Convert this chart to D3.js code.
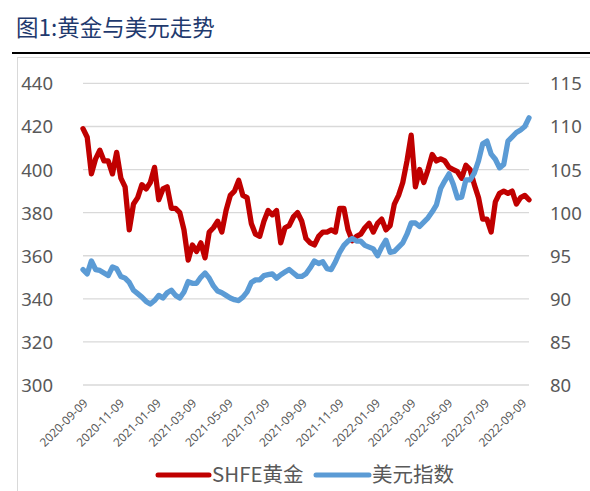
<!DOCTYPE html>
<html>
<head>
<meta charset="utf-8">
<script src="https://cdn.jsdelivr.net/npm/d3@7/dist/d3.min.js"></script>
<style>
html,body{margin:0;padding:0;background:#fff;}
svg{display:block;}
</style>
</head>
<body>
<svg id="chart" width="590" height="491"></svg>
<script>
const dates = ["2020-09-09","2020-09-16","2020-09-23","2020-09-30","2020-10-07","2020-10-14","2020-10-21","2020-10-28","2020-11-04","2020-11-11","2020-11-18","2020-11-25","2020-12-02","2020-12-09","2020-12-16","2020-12-23","2020-12-30",
"2021-01-06","2021-01-13","2021-01-20","2021-01-27","2021-02-03","2021-02-10","2021-02-17","2021-02-24","2021-03-03","2021-03-10","2021-03-17","2021-03-24","2021-03-31","2021-04-07","2021-04-14","2021-04-21","2021-04-28","2021-05-05","2021-05-12","2021-05-19","2021-05-26","2021-06-02","2021-06-09","2021-06-16","2021-06-23","2021-06-30","2021-07-07","2021-07-14","2021-07-21","2021-07-28","2021-08-04","2021-08-11","2021-08-18","2021-08-25","2021-09-01","2021-09-08","2021-09-15","2021-09-22","2021-09-29","2021-10-06","2021-10-13","2021-10-20","2021-10-27","2021-11-03","2021-11-10","2021-11-17","2021-11-24","2021-12-01","2021-12-08","2021-12-15","2021-12-22","2021-12-29",
"2022-01-05","2022-01-12","2022-01-19","2022-01-26","2022-02-02","2022-02-09","2022-02-16","2022-02-23","2022-03-02","2022-03-09","2022-03-16","2022-03-23","2022-03-30","2022-04-06","2022-04-13","2022-04-20","2022-04-27","2022-05-04","2022-05-11","2022-05-18","2022-05-25","2022-06-01","2022-06-08","2022-06-15","2022-06-22","2022-06-29","2022-07-06","2022-07-13","2022-07-20","2022-07-27","2022-08-03","2022-08-10","2022-08-17","2022-08-24","2022-08-31","2022-09-07","2022-09-14","2022-09-21"];

const goldSHFE = [419,415,398,405,409,404,404,398,408,396,392,372,384,387,393,391,394,
401,386,391,392,382,382,380,372,358,365,362,366,359,371,373,376,371,381,388,390,395,388,387,375,370,369,376,381,379,381,366,373,374,378,380,376,368,366,365,369,371,371,372,371,382,382,372,367,369,370,373,375,
371,375,377,372,374,384,388,394,404,416,392,400,394,400,407,404,405,404,401,400,399,396,402,400,393,387,377,377,371,385,389,390,389,390,384,387,388,386];

const usdIndex = [93.4,92.9,94.4,93.4,93.3,93.0,92.7,93.7,93.5,92.6,92.4,91.9,91.0,90.6,90.2,89.7,89.4,
89.8,90.4,90.1,90.7,91.0,90.4,90.1,90.8,92.0,91.8,91.8,92.5,93.0,92.4,91.5,90.9,90.7,90.4,90.1,89.9,89.8,90.2,90.8,91.9,92.2,92.2,92.7,92.8,92.9,92.4,92.8,93.1,93.4,93.0,92.6,92.6,92.9,93.6,94.4,94.1,94.3,93.5,93.4,94.3,95.4,96.2,96.7,97.0,96.7,96.7,96.2,96.0,
95.8,95.0,96.0,96.8,95.4,95.5,96.0,96.5,97.5,98.8,98.8,98.4,98.9,99.4,100.1,100.9,102.8,103.7,104.5,103.3,101.7,101.8,103.8,103.8,104.6,106.0,108.0,108.3,106.8,106.2,105.2,105.6,108.3,108.8,109.3,109.6,110.0,111.0];

const xTickLabels = ["2020-09-09","2020-11-09","2021-01-09","2021-03-09","2021-05-09","2021-07-09","2021-09-09","2021-11-09","2022-01-09","2022-03-09","2022-05-09","2022-07-09","2022-09-09"];
const leftTicks = [300,320,340,360,380,400,420,440];
const rightTicks = [80,85,90,95,100,105,110,115];
const seriesNames = ["SHFE黄金","美元指数"];
const titleText = "图1:黄金与美元走势";

const parse = d3.timeParse("%Y-%m-%d");
const svg = d3.select("#chart");
const W = 590, H = 491;
const plot = {left: 83, right: 529, top: 83.4, bottom: 385};

const x = d3.scaleTime()
  .domain([parse(dates[0]), parse(dates[dates.length-1])])
  .range([plot.left, plot.right]);
const yL = d3.scaleLinear().domain([300,440]).range([plot.bottom, plot.top]);
const yR = d3.scaleLinear().domain([80,115]).range([plot.bottom, plot.top]);

const gridColor = "#D9D9D9";
const textColor = "#595959";
const red = "#C00000";
const blue = "#5B9BD5";
const cjk = "'Noto Sans CJK SC','Noto Sans',sans-serif";
const num = "'Noto Sans','Liberation Sans',sans-serif";

// frame
svg.append("rect").attr("x",17.5).attr("y",57.5).attr("width",W).attr("height",H)
  .attr("fill","none").attr("stroke","#D9D9D9").attr("stroke-width",1);

// title
svg.append("text").attr("x",16).attr("y",36).text(titleText)
  .attr("font-family",cjk).attr("font-size",22.5).attr("fill","#1F3A6E");
svg.append("line").attr("x1",12).attr("x2",W).attr("y1",53).attr("y2",53)
  .attr("stroke","#000").attr("stroke-width",2.2);

// gridlines
svg.append("g").selectAll("line").data(leftTicks).join("line")
  .attr("x1",plot.left).attr("x2",plot.right)
  .attr("y1",d=>yL(d)).attr("y2",d=>yL(d))
  .attr("stroke",gridColor).attr("stroke-width",1.3);

// left axis
const axL = d3.axisLeft(yL).tickValues(leftTicks).tickSize(0).tickPadding(0);
const gL = svg.append("g").attr("transform","translate(53,0)").call(axL);
gL.select(".domain").remove();
gL.selectAll("text").attr("font-family",num).attr("font-size",18.5).attr("fill",textColor).attr("dy","0.35em");

// right axis
const axR = d3.axisRight(yR).tickValues(rightTicks).tickSize(0).tickPadding(0);
const gR = svg.append("g").attr("transform","translate(550,0)").call(axR);
gR.select(".domain").remove();
gR.selectAll("text").attr("font-family",num).attr("font-size",18.5).attr("fill",textColor).attr("dy","0.35em");

// x axis labels
const axX = d3.axisBottom(x).tickValues(xTickLabels.map(parse)).tickSize(0).tickPadding(0)
  .tickFormat(d3.timeFormat("%Y-%m-%d"));
const gX = svg.append("g").attr("transform","translate(0,401)").call(axX);
gX.select(".domain").remove();
gX.selectAll("text")
  .attr("font-family",num).attr("font-size",11.8).attr("fill",textColor)
  .attr("text-anchor","end").attr("dy","0.35em")
  .attr("transform","translate(2,0) rotate(-45)")
  .attr("y",0).attr("x",0);

// lines
const lineGold = d3.line().x((d,i)=>x(parse(dates[i]))).y(d=>yL(d));
const lineUsd = d3.line().x((d,i)=>x(parse(dates[i]))).y(d=>yR(d));
svg.append("path").datum(goldSHFE).attr("d",lineGold)
  .attr("fill","none").attr("stroke",red).attr("stroke-width",5.3)
  .attr("stroke-linejoin","round").attr("stroke-linecap","round");
svg.append("path").datum(usdIndex).attr("d",lineUsd)
  .attr("fill","none").attr("stroke",blue).attr("stroke-width",5.3)
  .attr("stroke-linejoin","round").attr("stroke-linecap","round");

// legend
const legend = [
  {name: seriesNames[0], color: red, x1: 158, x2: 209, tx: 212},
  {name: seriesNames[1], color: blue, x1: 316, x2: 369, tx: 372}
];
const lg = svg.append("g");
legend.forEach(l=>{
  lg.append("line").attr("x1",l.x1).attr("x2",l.x2).attr("y1",475).attr("y2",475)
    .attr("stroke",l.color).attr("stroke-width",5).attr("stroke-linecap","round");
  lg.append("text").attr("x",l.tx).attr("y",475).attr("dy","0.36em").text(l.name)
    .attr("font-family",cjk).attr("font-size",20.5).attr("fill",textColor);
});
</script>
</body>
</html>
